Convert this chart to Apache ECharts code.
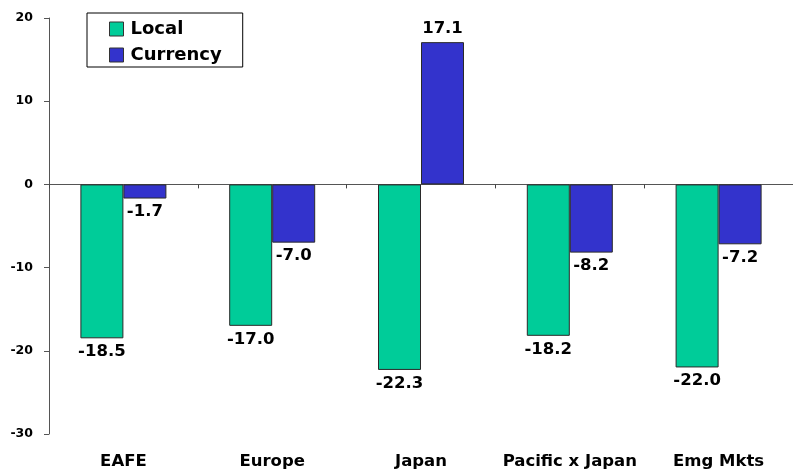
<!DOCTYPE html>
<html>
<head>
<meta charset="utf-8">
<style>
  html, body { margin: 0; padding: 0; background: #ffffff; }
  #chart { width: 793px; height: 470px; }
</style>
<script src="https://cdn.jsdelivr.net/npm/echarts@6/dist/echarts.min.js"></script>
</head>
<body>
<div id="chart"></div>
<script>
// Regional returns split into local-market and currency components (%)
var categories = ['EAFE', 'Europe', 'Japan', 'Pacific x Japan', 'Emg Mkts'];
var localValues = [-18.5, -17.0, -22.3, -18.2, -22.0];
var currencyValues = [-1.7, -7.0, 17.1, -8.2, -7.2];
var yTicks = { min: -30, max: 20, interval: 10 };

var FONT = '"DejaVu Sans", Arial, sans-serif';
var GREEN = '#00CC99';
var BLUE = '#3333CC';

var valueLabel = {
  show: true,
  position: 'outside',
  distance: 5,
  fontFamily: FONT,
  fontWeight: 'bold',
  fontSize: 16.5,
  color: '#000',
  formatter: function (p) { return p.value.toFixed(1); }
};

function barData(values) {
  return values.map(function (v) {
    return { value: v, label: { position: v < 0 ? 'bottom' : 'top' } };
  });
}

var chart = echarts.init(document.getElementById('chart'), null, { renderer: 'canvas' });

chart.setOption({
  animation: false,
  backgroundColor: '#ffffff',
  grid: { left: 49, right: 0, top: 18, bottom: 33, containLabel: false },
  legend: {
    orient: 'vertical',
    left: 87,
    top: 13,
    padding: [7, 21, 3, 22],
    itemGap: 8,
    itemWidth: 14,
    itemHeight: 14,
    borderColor: '#000',
    borderWidth: 1,
    borderRadius: 0,
    icon: 'rect',
    textStyle: {
      fontFamily: FONT,
      fontWeight: 'bold',
      fontSize: 18,
      lineHeight: 14,
      color: '#000',
      padding: [0, 0, 0, 2]
    },
    data: [
      { name: 'Local', itemStyle: { color: GREEN, borderColor: '#333', borderWidth: 1 } },
      { name: 'Currency', itemStyle: { color: BLUE, borderColor: '#333', borderWidth: 1 } }
    ]
  },
  xAxis: [
    {
      type: 'category',
      data: categories,
      position: 'bottom',
      axisLine: { show: false, onZero: false },
      axisTick: { show: false },
      axisLabel: {
        margin: 19,
        fontFamily: FONT,
        fontWeight: 'bold',
        fontSize: 16.5,
        color: '#000',
        interval: 0
      },
      splitLine: { show: false }
    },
    {
      type: 'category',
      data: categories,
      position: 'top',
      axisLine: { show: true, onZero: true, lineStyle: { color: '#555', width: 1 } },
      axisTick: { show: true, inside: true, length: 4, alignWithLabel: false, lineStyle: { color: '#444' } },
      axisLabel: { show: false },
      splitLine: { show: false }
    }
  ],
  yAxis: {
    type: 'value',
    min: yTicks.min,
    max: yTicks.max,
    interval: yTicks.interval,
    axisLine: { show: true, lineStyle: { color: '#555', width: 1 } },
    axisTick: { show: true, length: 5, lineStyle: { color: '#555' } },
    splitLine: { show: false },
    axisLabel: {
      margin: 16,
      fontFamily: FONT,
      fontWeight: 'bold',
      fontSize: 12.5,
      color: '#000'
    }
  },
  series: [
    {
      name: 'Local',
      type: 'bar',
      xAxisIndex: 0,
      barWidth: 43,
      barGap: '0%',
      itemStyle: { color: GREEN, borderColor: '#2a2a2a', borderWidth: 1 },
      label: valueLabel,
      data: barData(localValues)
    },
    {
      name: 'Currency',
      type: 'bar',
      xAxisIndex: 0,
      barWidth: 43,
      barGap: '0%',
      itemStyle: { color: BLUE, borderColor: '#2a2a2a', borderWidth: 1 },
      label: valueLabel,
      data: barData(currencyValues)
    }
  ]
});
</script>
</body>
</html>
